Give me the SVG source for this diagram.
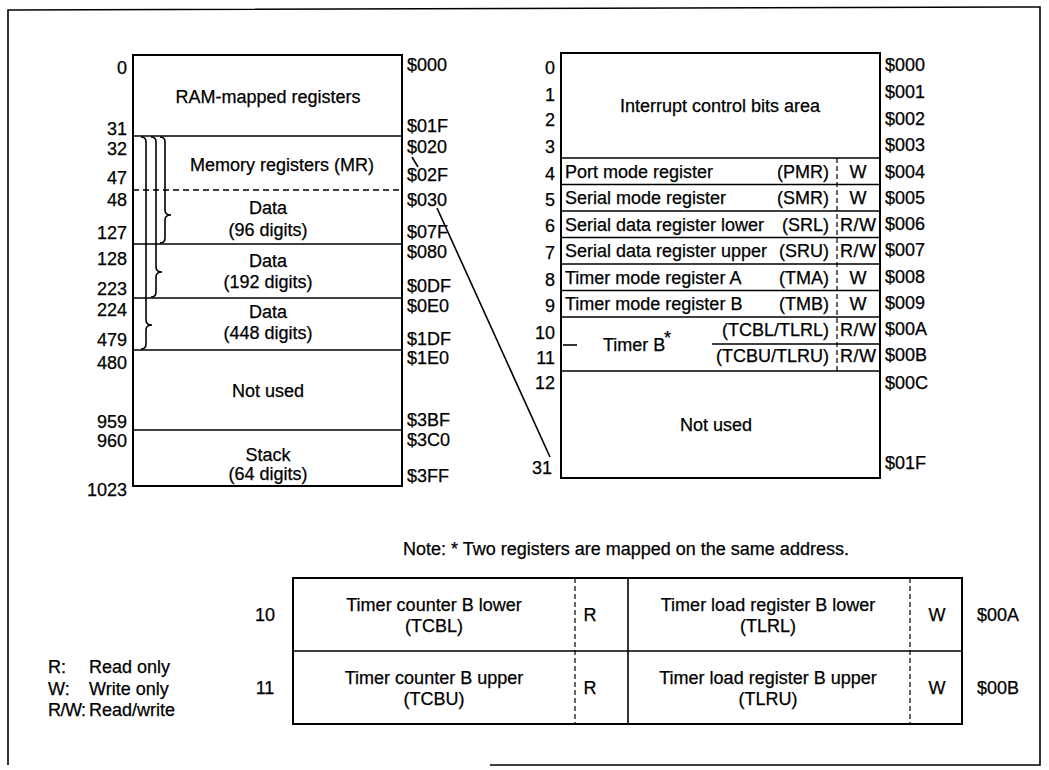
<svg xmlns="http://www.w3.org/2000/svg" width="1049" height="770" viewBox="0 0 1049 770">
<style>
text{font-family:"Liberation Sans",Arial,sans-serif;font-size:18px;fill:#000;stroke:#000;stroke-width:0.25}
.m{text-anchor:middle}
.e{text-anchor:end}
.ln{stroke:#000;stroke-width:1.6;fill:none}
.bx{stroke:#000;stroke-width:2;fill:none}
.ds{stroke:#000;stroke-width:1.5;fill:none;stroke-dasharray:6,4}
.dv{stroke:#000;stroke-width:1.2;fill:none;stroke-dasharray:5,3}
</style>
<rect width="1049" height="770" fill="#fff"/>
<path class="ln" d="M8,765 L8,10 L1040,7 L1040,765 L490,765"/>

<g id="ram-map">
<rect class="bx" x="133" y="55" width="269" height="431"/>
<line class="ln" x1="133" y1="136" x2="402" y2="136"/>
<line class="ds" x1="133" y1="190" x2="402" y2="190"/>
<line class="ln" x1="133" y1="244" x2="402" y2="244"/>
<line class="ln" x1="133" y1="298" x2="402" y2="298"/>
<line class="ln" x1="133" y1="350" x2="402" y2="350"/>
<line class="ln" x1="133" y1="430" x2="402" y2="430"/>
<text class="m" x="268" y="103">RAM-mapped registers</text>
<text class="m" x="282" y="171">Memory registers (MR)</text>
<text class="m" x="268" y="214">Data</text>
<text class="m" x="268" y="236">(96 digits)</text>
<text class="m" x="268" y="267">Data</text>
<text class="m" x="268" y="288">(192 digits)</text>
<text class="m" x="268" y="318">Data</text>
<text class="m" x="268" y="339">(448 digits)</text>
<text class="m" x="268" y="397">Not used</text>
<text class="m" x="268" y="461">Stack</text>
<text class="m" x="268" y="480">(64 digits)</text>
<path class="ln" d="M160,137 Q165,137 165,142 L165,210 Q165,215 171,215 Q165,215 165,220 L165,238 Q165,243 160,243"/>
<path class="ln" d="M151,137 Q156,137 156,142 L156,267 Q156,272 162,272 Q156,272 156,277 L156,292 Q156,297 151,297"/>
<path class="ln" d="M141,137 Q146,137 146,142 L146,320 Q146,325 152,325 Q146,325 146,330 L146,344 Q146,349 141,349"/>
<g class="e">
<text x="127" y="74">0</text>
<text x="127" y="135">31</text>
<text x="127" y="155">32</text>
<text x="127" y="184">47</text>
<text x="127" y="206">48</text>
<text x="127" y="239">127</text>
<text x="127" y="265">128</text>
<text x="127" y="295">223</text>
<text x="127" y="316">224</text>
<text x="127" y="346">479</text>
<text x="127" y="369">480</text>
<text x="127" y="428">959</text>
<text x="127" y="447">960</text>
<text x="127" y="496">1023</text>
</g>
<text x="407" y="71">$000</text>
<text x="407" y="132">$01F</text>
<text x="407" y="153">$020</text>
<text x="407" y="181">$02F</text>
<text x="407" y="206">$030</text>
<text x="407" y="238">$07F</text>
<text x="407" y="258">$080</text>
<text x="407" y="292">$0DF</text>
<text x="407" y="312">$0E0</text>
<text x="407" y="345">$1DF</text>
<text x="407" y="364">$1E0</text>
<text x="407" y="426">$3BF</text>
<text x="407" y="446">$3C0</text>
<text x="407" y="482">$3FF</text>
</g>

<g id="ram-registers">
<rect class="bx" x="561" y="53" width="319" height="425"/>
<line class="ln" x1="561" y1="158" x2="880" y2="158"/>
<line class="ln" x1="561" y1="184.5" x2="880" y2="184.5"/>
<line class="ln" x1="561" y1="211" x2="880" y2="211"/>
<line class="ln" x1="561" y1="237.5" x2="880" y2="237.5"/>
<line class="ln" x1="561" y1="264" x2="880" y2="264"/>
<line class="ln" x1="561" y1="290.5" x2="880" y2="290.5"/>
<line class="ln" x1="561" y1="317" x2="880" y2="317"/>
<line class="ln" x1="712" y1="344" x2="880" y2="344"/>
<line class="ln" x1="561" y1="371" x2="880" y2="371"/>
<line class="dv" x1="837" y1="158" x2="837" y2="371"/>
<line class="ln" x1="563" y1="345" x2="577" y2="345"/>
<text class="m" x="720" y="112">Interrupt control bits area</text>
<text x="565" y="178">Port mode register</text>
<text x="565" y="204">Serial mode register</text>
<text x="565" y="231">Serial data register lower</text>
<text x="565" y="257">Serial data register upper</text>
<text x="565" y="284">Timer mode register A</text>
<text x="565" y="310">Timer mode register B</text>
<g class="e">
<text x="829" y="178">(PMR)</text>
<text x="829" y="204">(SMR)</text>
<text x="829" y="231">(SRL)</text>
<text x="829" y="257">(SRU)</text>
<text x="829" y="284">(TMA)</text>
<text x="829" y="310">(TMB)</text>
<text x="829" y="336">(TCBL/TLRL)</text>
<text x="829" y="362">(TCBU/TLRU)</text>
</g>
<g class="m">
<text x="858" y="178">W</text>
<text x="858" y="204">W</text>
<text x="858" y="231" textLength="36">R/W</text>
<text x="858" y="257" textLength="36">R/W</text>
<text x="858" y="284">W</text>
<text x="858" y="310">W</text>
<text x="858" y="336" textLength="36">R/W</text>
<text x="858" y="362" textLength="36">R/W</text>
</g>
<text x="603" y="351">Timer B</text>
<text x="664" y="344">*</text>
<text class="m" x="716" y="431">Not used</text>
<g class="e">
<text x="555" y="74">0</text>
<text x="555" y="101">1</text>
<text x="555" y="126">2</text>
<text x="555" y="153">3</text>
<text x="555" y="180">4</text>
<text x="555" y="206">5</text>
<text x="555" y="232">6</text>
<text x="555" y="259">7</text>
<text x="555" y="286">8</text>
<text x="555" y="312">9</text>
<text x="555" y="339">10</text>
<text x="555" y="364">11</text>
<text x="555" y="389">12</text>
<text x="552" y="474">31</text>
</g>
<text x="885" y="71">$000</text>
<text x="885" y="98">$001</text>
<text x="885" y="125">$002</text>
<text x="885" y="151">$003</text>
<text x="885" y="178">$004</text>
<text x="885" y="204">$005</text>
<text x="885" y="230">$006</text>
<text x="885" y="256">$007</text>
<text x="885" y="283">$008</text>
<text x="885" y="309">$009</text>
<text x="885" y="335">$00A</text>
<text x="885" y="361">$00B</text>
<text x="885" y="389">$00C</text>
<text x="885" y="469">$01F</text>
</g>

<g id="connectors">
<line class="ln" x1="412" y1="157" x2="418" y2="167"/>
<line class="ln" x1="437" y1="208" x2="550" y2="457"/>
</g>

<g id="note">
<text x="403" y="555">Note:  * Two registers are mapped on the same address.</text>
</g>

<g id="timer-table">
<rect class="bx" x="293" y="578" width="669" height="146"/>
<line class="ln" x1="293" y1="651" x2="962" y2="651"/>
<line class="dv" x1="575" y1="578" x2="575" y2="724"/>
<line class="ln" x1="628" y1="578" x2="628" y2="724"/>
<line class="dv" x1="910" y1="578" x2="910" y2="724"/>
<g class="m">
<text x="265" y="621">10</text>
<text x="265" y="694">11</text>
<text x="434" y="611">Timer counter B lower</text>
<text x="434" y="632">(TCBL)</text>
<text x="434" y="684">Timer counter B upper</text>
<text x="434" y="705">(TCBU)</text>
<text x="590" y="621">R</text>
<text x="590" y="694">R</text>
<text x="768" y="611">Timer load register B lower</text>
<text x="768" y="632">(TLRL)</text>
<text x="768" y="684">Timer load register B upper</text>
<text x="768" y="705">(TLRU)</text>
<text x="937" y="621">W</text>
<text x="937" y="694">W</text>
</g>
<text x="977" y="621">$00A</text>
<text x="977" y="694">$00B</text>
</g>

<g id="legend">
<text x="48" y="673">R:</text>
<text x="89" y="673">Read only</text>
<text x="48" y="695">W:</text>
<text x="89" y="695">Write only</text>
<text x="48" y="716" textLength="38">R/W:</text>
<text x="89" y="716">Read/write</text>
</g>
</svg>
